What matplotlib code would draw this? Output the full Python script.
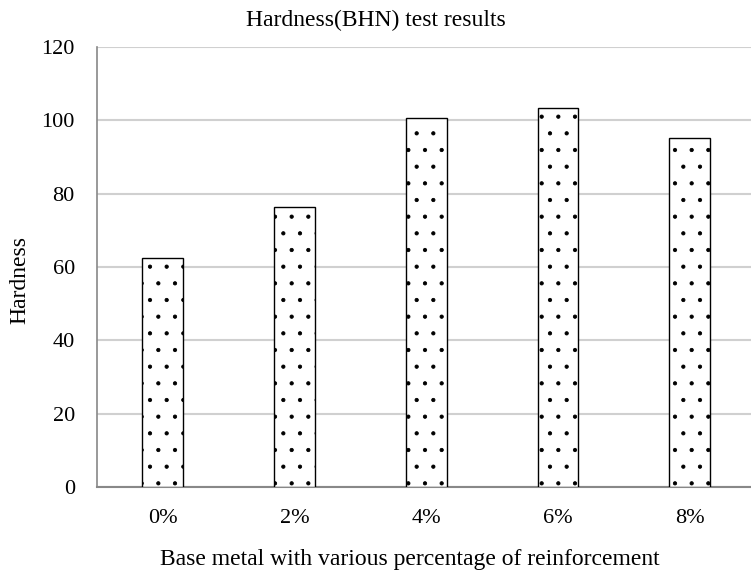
import numpy as np
import matplotlib
matplotlib.use("Agg")
import matplotlib.pyplot as plt

categories = ['0%', '2%', '4%', '6%', '8%']
hardness = [62.5, 76.5, 100.7, 103.5, 95.3]

plt.rcParams['font.family'] = ['Liberation Serif', 'DejaVu Serif']
plt.rcParams['hatch.linewidth'] = 0.6
plt.rcParams['hatch.color'] = 'black'

fig = plt.figure(figsize=(7.51, 5.74), dpi=100)
ax = fig.add_axes([97 / 751, 87 / 574, 658.5 / 751, 440 / 574])

x = np.arange(len(categories))
ax.bar(x, hardness, width=0.31, color='white', edgecolor='black',
       linewidth=1.0, hatch='.', zorder=3)

ax.set_xlim(-0.5, 4.5)
ax.set_ylim(0, 120)
ax.set_yticks(np.arange(0, 121, 20))
ax.set_xticks(x)
ax.set_xticklabels(categories)
ax.tick_params(axis='both', length=0, labelsize=16)
ax.tick_params(axis='y', pad=16)
ax.tick_params(axis='x', pad=16)
ax.grid(axis='y', color='#d0d0d0', linewidth=1.5, zorder=0)

for s in ['top', 'right']:
    ax.spines[s].set_visible(False)
ax.spines['left'].set_color('#888888')
ax.spines['left'].set_linewidth(1.2)
ax.spines['bottom'].set_color('#888888')
ax.spines['bottom'].set_linewidth(1.5)

fig.text(376 / 751, 1 - 20 / 574, 'Hardness(BHN) test results', ha='center',
         va='center', fontsize=17)
fig.text(410 / 751, 1 - 560 / 574,
         'Base metal with various percentage of reinforcement',
         ha='center', va='center', fontsize=17)
fig.text(20 / 751, 1 - 280 / 574, 'Hardness', ha='center', va='center',
         rotation=90, fontsize=17)

fig.savefig('out.png', dpi=100)
